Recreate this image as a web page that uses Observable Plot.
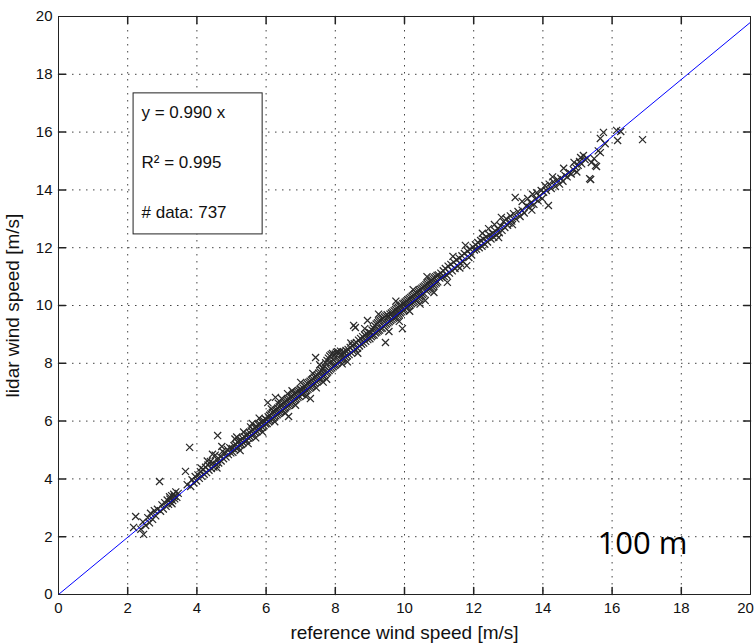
<!DOCTYPE html>
<html><head><meta charset="utf-8">
<script src="https://cdn.jsdelivr.net/npm/d3@7"></script>
<script src="https://cdn.jsdelivr.net/npm/@observablehq/plot@0.6"></script>
<style>
body{margin:0;background:#fff}
#chart svg{display:block}
</style>
</head><body><div id="chart"></div>
<script>
const xTicks = [0,2,4,6,8,10,12,14,16,18,20];
const yTicks = [0,2,4,6,8,10,12,14,16,18,20];
const xLabel = "reference wind speed [m/s]";
const yLabel = "lidar wind speed [m/s]";
const fitSlope = 0.990;
const fitRange = [0, 20];
const statsLines = ["y = 0.990 x", "R² = 0.995", "# data: 737"];
const heightLabel = "100 m";
const legendBox = [{x1: 2.17, x2: 5.90, y1: 12.46, y2: 17.34}];

// [reference, lidar] wind speed pairs
const points = [
[2.17,2.32],[2.23,2.70],[2.46,2.08],[2.38,2.26],[2.44,2.51],[2.52,2.39],[2.58,2.66],[2.63,2.48],[2.66,2.81],[2.72,2.60],[2.77,2.90],[2.81,2.72],[2.86,2.95],[2.92,3.91],[2.95,2.88],[2.99,3.10],[3.03,2.96],[3.07,3.18],[3.11,3.05],[3.14,3.27],[3.18,3.12],[3.21,3.38],[3.24,3.19],[3.27,3.42],[3.30,3.25],[3.33,3.47],[3.36,3.31],[3.39,3.55],[3.42,3.36],[3.46,3.50],[3.22,3.30],[3.28,3.14],[3.35,3.40],
[3.67,4.26],[3.79,5.09],[3.72,3.80],[3.82,3.74],[3.86,3.97],[3.91,3.86],[3.95,4.08],[3.99,3.93],[4.03,4.14],[4.07,4.02],[4.10,4.25],[4.14,4.09],[4.18,4.33],[4.21,4.16],[4.25,4.40],[4.28,4.22],[4.32,4.48],[4.35,4.30],[4.39,4.60],[4.42,4.36],[4.46,4.55],[4.49,4.41],[4.53,4.82],[4.60,5.50],[4.56,4.50],[4.60,4.66],[4.63,4.55],[4.67,4.78],[4.70,4.62],[4.74,4.95],[4.77,4.70],[4.81,4.88],[4.84,4.76],[4.88,5.02],[4.91,4.84],[4.95,5.08],[4.98,4.90],[4.30,4.62],[4.45,4.85],[4.58,4.38],[4.12,4.38],[4.72,5.12],
[5.02,5.05],[5.04,4.92],[5.07,5.15],[5.09,5.01],[5.12,5.20],[5.14,5.06],[5.17,5.28],[5.19,5.10],[5.22,5.31],[5.24,5.16],[5.27,5.35],[5.29,5.19],[5.32,5.40],[5.34,5.25],[5.37,5.46],[5.39,5.30],[5.42,5.52],[5.44,5.33],[5.47,5.55],[5.49,5.41],[5.52,5.60],[5.54,5.45],[5.57,5.66],[5.59,5.50],[5.62,5.70],[5.64,5.55],[5.67,5.78],[5.69,5.60],[5.72,5.82],[5.74,5.64],[5.77,5.88],[5.79,5.70],[5.82,5.90],[5.84,5.74],[5.87,5.96],[5.89,5.79],[5.92,6.02],[5.94,5.84],[5.97,6.08],[5.99,5.90],[5.10,5.38],[5.25,4.98],[5.35,5.62],[5.48,5.22],[5.60,5.92],[5.70,5.42],[5.80,6.10],[5.90,5.62],[5.55,5.80],[5.15,5.45],
[6.01,6.05],[6.03,5.92],[6.05,6.64],[6.06,6.15],[6.08,5.98],[6.10,6.20],[6.12,6.02],[6.14,6.25],[6.16,6.07],[6.18,6.30],[6.20,6.10],[6.22,6.34],[6.24,6.14],[6.26,6.38],[6.27,6.82],[6.28,6.18],[6.30,6.40],[6.32,6.22],[6.34,6.45],[6.36,6.26],[6.38,6.50],[6.40,6.30],[6.42,6.55],[6.44,6.34],[6.46,6.58],[6.48,6.38],[6.50,6.62],[6.52,6.42],[6.54,6.66],[6.56,6.46],[6.58,6.70],[6.60,6.50],[6.62,6.74],[6.64,6.54],[6.65,6.16],[6.66,6.78],[6.68,6.58],[6.70,6.82],[6.72,6.62],[6.74,6.86],[6.76,6.66],[6.78,6.90],[6.80,6.70],[6.82,6.94],[6.84,6.74],[6.86,6.98],[6.88,6.78],[6.90,7.02],[6.92,6.82],[6.94,7.06],[6.96,6.86],[6.98,7.10],[6.35,6.62],[6.55,6.28],[6.75,7.05],[6.85,6.55],[6.15,6.42],[6.45,6.78],[6.62,6.95],[6.25,5.98],
[7.00,7.34],[7.01,6.95],[7.03,7.08],[7.05,6.92],[7.07,7.14],[7.09,6.98],[7.11,7.20],[7.13,7.02],[7.15,7.25],[7.17,7.06],[7.19,7.30],[7.21,7.10],[7.23,7.34],[7.25,7.14],[7.27,7.38],[7.28,6.78],[7.29,7.18],[7.31,7.42],[7.33,7.22],[7.35,7.46],[7.37,7.26],[7.39,7.52],[7.41,7.30],[7.43,8.20],[7.44,7.56],[7.46,7.36],[7.48,7.60],[7.50,7.40],[7.52,7.66],[7.54,7.44],[7.56,7.70],[7.58,7.48],[7.60,7.76],[7.62,7.52],[7.64,7.82],[7.66,7.56],[7.68,7.90],[7.70,7.60],[7.72,8.02],[7.74,7.66],[7.76,8.10],[7.78,7.70],[7.80,8.18],[7.82,7.75],[7.84,8.25],[7.86,7.80],[7.88,8.30],[7.90,7.84],[7.92,8.34],[7.94,7.88],[7.96,8.28],[7.98,7.92],[7.55,7.95],[7.65,7.35],[7.85,8.05],[7.35,7.65],[7.15,6.85],[7.45,7.15],[7.75,7.45],[7.95,8.12],
[8.00,8.32],[8.01,7.95],[8.03,8.38],[8.05,8.00],[8.07,8.40],[8.09,8.05],[8.11,8.36],[8.13,8.08],[8.15,8.42],[8.17,8.12],[8.19,8.30],[8.21,8.15],[8.23,8.40],[8.25,8.18],[8.27,8.35],[8.29,8.22],[8.31,8.44],[8.34,8.26],[8.37,8.48],[8.40,8.30],[8.43,8.55],[8.46,8.36],[8.49,8.60],[8.52,8.42],[8.53,9.31],[8.55,8.68],[8.58,9.24],[8.58,8.48],[8.61,8.72],[8.64,8.52],[8.67,8.80],[8.70,8.60],[8.73,8.86],[8.76,8.66],[8.79,8.92],[8.82,8.70],[8.85,8.98],[8.88,8.76],[8.91,9.02],[8.93,9.48],[8.94,8.82],[8.97,9.08],[8.20,7.98],[8.45,8.70],[8.65,8.35],[8.85,9.20],[8.35,8.05],
[9.00,8.85],[9.02,9.05],[9.04,8.92],[9.06,9.15],[9.08,8.96],[9.10,9.22],[9.12,8.98],[9.14,9.30],[9.16,9.05],[9.18,9.36],[9.20,9.08],[9.22,9.40],[9.24,9.12],[9.26,9.44],[9.28,9.15],[9.30,9.48],[9.32,9.20],[9.34,9.52],[9.36,9.22],[9.38,9.56],[9.40,9.28],[9.42,9.60],[9.44,9.32],[9.45,8.72],[9.46,9.64],[9.48,9.36],[9.50,9.68],[9.52,9.40],[9.54,9.62],[9.56,9.44],[9.58,9.70],[9.60,9.48],[9.62,9.74],[9.64,9.52],[9.66,9.78],[9.68,9.56],[9.70,9.82],[9.72,9.58],[9.74,9.86],[9.76,9.62],[9.78,9.90],[9.80,9.66],[9.82,9.94],[9.84,9.70],[9.86,9.98],[9.88,9.74],[9.90,10.02],[9.92,9.78],[9.94,9.20],[9.95,10.06],[9.97,9.82],[9.99,10.08],[9.25,9.70],[9.55,9.10],[9.75,10.15],[9.85,9.45],
[10.00,9.86],[10.02,10.12],[10.04,9.92],[10.06,10.16],[10.08,9.95],[10.10,10.20],[10.12,9.98],[10.14,10.24],[10.16,10.02],[10.18,10.28],[10.20,10.06],[10.22,10.32],[10.24,10.10],[10.26,10.36],[10.28,10.14],[10.30,10.40],[10.32,10.18],[10.34,10.44],[10.36,10.22],[10.38,10.48],[10.40,10.26],[10.42,10.52],[10.44,10.30],[10.46,10.56],[10.48,10.34],[10.50,10.60],[10.52,10.38],[10.54,10.64],[10.56,10.42],[10.58,10.68],[10.60,10.17],[10.62,10.72],[10.64,10.50],[10.66,10.76],[10.68,10.54],[10.70,10.80],[10.72,10.58],[10.74,10.84],[10.76,10.62],[10.78,10.88],[10.80,10.66],[10.82,10.92],[10.84,10.70],[10.86,10.96],[10.88,10.74],[10.90,11.00],[10.92,10.78],[10.94,11.04],[10.96,10.82],[10.98,11.06],[10.25,10.55],[10.45,10.05],[10.65,11.00],[10.85,10.45],[10.15,9.80],
[11.02,10.95],[11.05,11.12],[11.08,10.98],[11.12,11.20],[11.15,11.00],[11.18,11.28],[11.22,11.05],[11.24,10.80],[11.26,11.36],[11.30,11.12],[11.34,11.42],[11.38,11.20],[11.42,11.50],[11.46,11.28],[11.50,11.58],[11.54,11.36],[11.58,11.64],[11.62,11.45],[11.66,11.72],[11.70,11.52],[11.73,11.80],[11.76,12.08],[11.80,11.38],[11.82,11.88],[11.86,11.66],[11.90,11.95],[11.94,11.75],[11.98,12.02],[11.40,11.70],[11.60,11.30],
[12.02,11.92],[12.05,12.10],[12.08,11.95],[12.12,12.18],[12.16,12.00],[12.20,12.25],[12.24,12.05],[12.28,12.30],[12.32,12.12],[12.36,12.38],[12.40,12.20],[12.43,12.66],[12.46,12.44],[12.50,12.30],[12.54,12.50],[12.58,12.36],[12.62,12.58],[12.66,12.44],[12.70,12.65],[12.74,12.52],[12.78,12.75],[12.82,12.60],[12.86,12.90],[12.90,12.70],[12.94,13.00],[12.98,12.78],[12.60,12.80],[12.80,13.05],[12.25,12.50],[12.72,12.35],
[13.02,12.85],[13.06,13.10],[13.10,12.92],[13.15,13.18],[13.20,13.74],[13.22,13.00],[13.28,13.25],[13.34,13.08],[13.40,13.30],[13.46,13.20],[13.52,13.45],[13.56,13.70],[13.60,13.40],[13.65,13.55],[13.70,13.85],[13.74,13.50],[13.78,13.68],[13.82,13.90],[13.86,13.62],[13.90,13.78],[13.95,13.98],[13.98,13.70],[13.40,13.60],[13.12,12.80],[13.68,13.30],
[14.02,13.92],[14.06,14.15],[14.10,13.98],[14.16,13.46],[14.18,14.20],[14.24,14.05],[14.30,14.28],[14.36,14.12],[14.42,14.35],[14.48,14.20],[14.52,14.40],[14.58,14.30],[14.64,14.50],[14.70,14.45],[14.76,14.60],[14.82,14.55],[14.88,14.70],[14.94,14.78],[14.98,14.62],[14.28,14.45],[14.60,14.75],[14.90,14.95],
[15.02,14.85],[15.06,14.98],[15.09,15.12],[15.12,14.90],[15.17,15.19],[15.22,15.05],[15.28,15.10],[15.35,14.39],[15.38,14.36],[15.40,14.95],[15.48,15.08],[15.52,14.84],[15.55,14.81],[15.60,15.35],[15.66,15.29],[15.66,15.78],[15.75,15.99],[15.80,15.60],[16.13,16.06],[16.16,15.71],[16.25,16.02],[16.88,15.74]
];

const axisColor = "#222";
const tickShape = {draw(ctx, l) { ctx.moveTo(0, 0); ctx.lineTo(0, -l); }};
const inner = xTicks.slice(1, -1);
const innerY = yTicks.slice(1, -1);
const font = "Liberation Sans, Arial, Helvetica, sans-serif";

const chart = Plot.plot({
  width: 756,
  height: 643,
  marginLeft: 58,
  marginRight: 6,
  marginTop: 16,
  marginBottom: 49,
  style: {fontFamily: font, background: "#fff", color: "#111"},
  x: {domain: [0, 20]},
  y: {domain: [0, 20]},
  marks: [
    Plot.gridX(inner, {stroke: "#444", strokeOpacity: 1, strokeDasharray: "1.5,5.5"}),
    Plot.gridY(innerY, {stroke: "#444", strokeOpacity: 1, strokeDasharray: "1.5,5.5"}),
    Plot.rect(legendBox, {x1: "x1", x2: "x2", y1: "y1", y2: "y2", fill: "#fff", stroke: axisColor, strokeWidth: 1}),
    Plot.dot(points, {x: d => d[0], y: d => d[1], symbol: "times", r: 3.3, stroke: "#2a2a2a", strokeWidth: 1.25}),
    Plot.line(fitRange, {x: d => d, y: d => fitSlope * d, stroke: "#0000ff", strokeWidth: 1}),
    Plot.frame({stroke: axisColor}),
    Plot.vector(inner, {x: d => d, y: 0, length: 7, rotate: 0, anchor: "start", shape: tickShape, stroke: axisColor}),
    Plot.vector(inner, {x: d => d, y: 20, length: 7, rotate: 180, anchor: "start", shape: tickShape, stroke: axisColor}),
    Plot.vector(innerY, {x: 0, y: d => d, length: 7, rotate: 90, anchor: "start", shape: tickShape, stroke: axisColor}),
    Plot.vector(innerY, {x: 20, y: d => d, length: 7, rotate: -90, anchor: "start", shape: tickShape, stroke: axisColor}),
    Plot.axisX(xTicks.slice(0, -1), {tickSize: 0, tickPadding: 8, fontSize: 15, label: null, fill: "#111"}),
    Plot.axisX(xTicks.slice(-1), {tickSize: 0, tickPadding: 8, fontSize: 15, label: null, fill: "#111", dx: -5}),
    Plot.axisY(yTicks, {tickSize: 0, tickPadding: 6, fontSize: 15, label: null, fill: "#111"}),
    Plot.text([xLabel], {frameAnchor: "bottom", dy: 38, lineAnchor: "middle", textAnchor: "middle", fontSize: 19, fill: "#111"}),
    Plot.text([yLabel], {frameAnchor: "left", dx: -46, rotate: -90, lineAnchor: "middle", textAnchor: "middle", fontSize: 19, fill: "#111"}),
    Plot.text([statsLines.join("\n")], {frameAnchor: "top-left", dx: 83, dy: 66, lineAnchor: "top", lineHeight: 2.95, textAnchor: "start", fontSize: 17, fill: "#111"}),
    Plot.text([heightLabel], {frameAnchor: "bottom-left", dx: 539, dy: -50, textAnchor: "start", lineAnchor: "middle", fontSize: 31, fontFamily: "Open Sans, Noto Sans, sans-serif", fill: "#000"})
  ]
});
document.getElementById("chart").appendChild(chart);
</script>
</body></html>
